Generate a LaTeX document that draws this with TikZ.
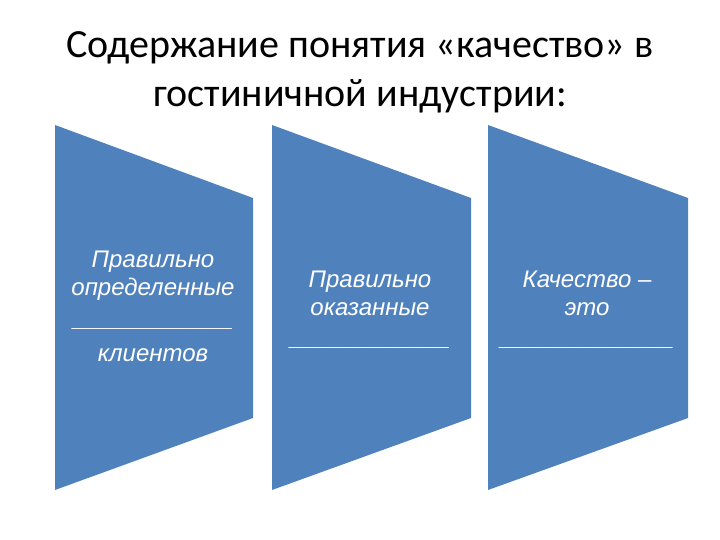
\documentclass[tikz,border=0pt]{standalone}
\usepackage{fontspec}
\setmainfont{Carlito}
\newfontfamily\panelfont{Liberation Sans}
\usepackage{tikz}
\usetikzlibrary{positioning}
\definecolor{panelblue}{HTML}{4F81BD}

\begin{document}
\begin{tikzpicture}[x=1pt, y=-1pt,
  panel/.style={fill=panelblue},
  label/.style={anchor=base, align=center, text=white, inner sep=0pt,
              font=\panelfont\itshape\fontsize{24}{28}\selectfont},
  heading/.style={anchor=base, align=center, inner sep=0pt,
              font=\fontsize{40}{49}\selectfont},
]
\useasboundingbox (0,0) rectangle (720,540);

% Title
\node[heading] (title) at (360,107) {Содержание понятия «качество» в\\гостиничной индустрии:};

% Panels
\fill[panel] (55,125) -- (253,198) -- (253,418) -- (55,490) -- cycle;
\fill[panel] (272,125) -- (471,198) -- (471,418) -- (272,490) -- cycle;
\fill[panel] (488,125) -- (688,198) -- (688,418) -- (488,490) -- cycle;

% Texts (base anchor sits on the last line)
\node[label] (p1) at (153,361) {Правильно\\определенные\\[3pt]{\bfseries\_\_\_\_\_\_\_\_\_\_\_\_}\\[7pt]клиентов};
\node[label] (p2) at (370,345) {Правильно\\оказанные\\[2pt]{\bfseries\_\_\_\_\_\_\_\_\_\_\_\_}};
\node[label] (p3) at (587,345) {Качество –\\это\\[2pt]{\bfseries\_\_\_\_\_\_\_\_\_\_\_\_\_}};
\end{tikzpicture}
\end{document}
